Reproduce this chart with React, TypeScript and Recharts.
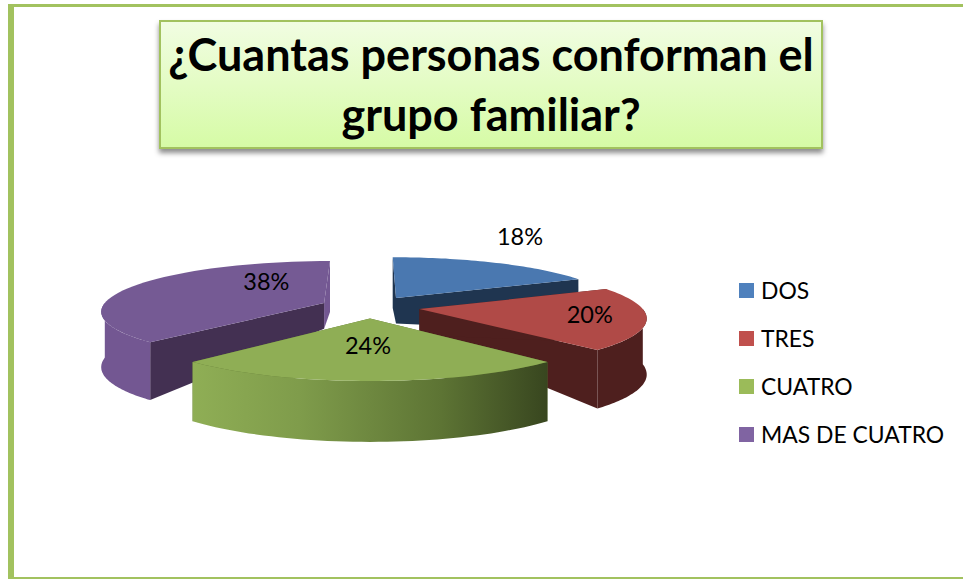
import { PieChart, Pie, Legend } from 'recharts'

const categories = ['DOS', 'TRES', 'CUATRO', 'MAS DE CUATRO']
const shares = [18, 20, 24, 38]
const legendColors = ['#4f81bd', '#c0504d', '#9bbb59', '#8064a2']
const topColors = ['#4a78b0', '#b04a47', '#8fae55', '#755a94']
const rimColors = ['#1f3550', '#4e1f1e', 'url(#greenRim)', '#735792']
const wallColors = ['#1f3550', '#4e1f1e', '#5a7030', '#433052']

// MAS DE CUATRO is painted first so the green slice sits over it
const paintOrder = [3, 0, 1, 2]
const table = paintOrder.map((i) => ({
  category: categories[i],
  value: shares[i],
  fill: legendColors[i],
}))

// the pie starts at 12 o'clock on DOS, so the first painted slice starts further round
const firstAngle = 90 - (360 * (shares[0] + shares[1] + shares[2])) / 100

// fake 3D: ground plane tilted towards the viewer, with a little perspective
const RADIUS = 222
const TILT = 0.222
const PERSPECTIVE = 0.15
const EXPLODE = 50
const DEPTH_APEX = 26
const DEPTH_RIM = 29

// label offsets from the projected mid point of each slice
const labelRadius = [1.1, 0.72, 0.35, 0.62]
const labelNudge = [
  [15, -24],
  [8, -2],
  [-2, 7],
  [63, -11],
]

const rad = (d: number) => (d * Math.PI) / 180

function project(cx: number, cy: number, clock: number, mid: number, r: number, down: boolean) {
  const X = r * Math.sin(rad(clock)) + EXPLODE * Math.sin(rad(mid))
  const Z = -r * Math.cos(rad(clock)) - EXPLODE * Math.cos(rad(mid))
  const s = 1 / (1 - (PERSPECTIVE * Z) / RADIUS)
  const drop = down ? (DEPTH_APEX + (DEPTH_RIM * r) / RADIUS) * Math.sqrt(s) : 0
  return [cx + X * s, cy + Z * TILT * s + drop]
}

const toPath = (pts: number[][]) =>
  'M' + pts.map((p) => `${p[0].toFixed(1)},${p[1].toFixed(1)}`).join('L') + 'Z'

function arcPoints(cx: number, cy: number, from: number, to: number, mid: number, r: number, down: boolean) {
  const steps = 48
  const pts: number[][] = []
  for (let k = 0; k <= steps; k++) {
    pts.push(project(cx, cy, from + ((to - from) * k) / steps, mid, r, down))
  }
  return pts
}

function Slice3D(props: any) {
  const { cx, cy, outerRadius, startAngle, endAngle, category } = props
  const i = categories.indexOf(category)
  const from = (90 - startAngle) % 360
  const to = from + (startAngle - endAngle)
  const mid = (from + to) / 2
  const rimTop = arcPoints(cx, cy, from, to, mid, outerRadius, false)
  const apexTop = project(cx, cy, from, mid, 0, false)
  const apexBottom = project(cx, cy, from, mid, 0, true)
  const first = [rimTop[0], project(cx, cy, from, mid, outerRadius, true)]
  const last = [rimTop[rimTop.length - 1], project(cx, cy, to, mid, outerRadius, true)]
  const startWall = [apexTop, first[0], first[1], apexBottom]
  const endWall = [apexTop, last[0], last[1], apexBottom]
  // only the front half of the rim can be seen
  const a = Math.max(from, 90)
  const b = Math.min(to, 270)
  const ribbon =
    b > a
      ? [
          ...arcPoints(cx, cy, a, b, mid, outerRadius, false),
          ...arcPoints(cx, cy, b, a, mid, outerRadius, true),
        ]
      : null
  return (
    <g>
      <defs>
        <linearGradient id="greenRim" x1="0" y1="0" x2="1" y2="0">
          <stop offset="0%" stopColor="#8fae55" />
          <stop offset="30%" stopColor="#7f9c4b" />
          <stop offset="70%" stopColor="#5d7434" />
          <stop offset="100%" stopColor="#38461f" />
        </linearGradient>
      </defs>
      <path d={toPath(endWall)} fill={i === 3 ? rimColors[i] : wallColors[i]} />
      <path d={toPath(startWall)} fill={wallColors[i]} />
      {ribbon && <path d={toPath(ribbon)} fill={rimColors[i]} />}
      <path d={toPath([apexTop, ...rimTop])} fill={topColors[i]} />
    </g>
  )
}

function percentLabel(props: any) {
  const { cx, cy, outerRadius, midAngle, category, value } = props
  const i = categories.indexOf(category)
  const clock = 90 - midAngle
  const p = project(cx, cy, clock, clock, outerRadius * labelRadius[i], false)
  return (
    <text
      x={p[0] + labelNudge[i][0]}
      y={p[1] + labelNudge[i][1]}
      textAnchor="middle"
      dominantBaseline="central"
      fill="#000"
      fontFamily="Lato"
      fontSize={23.5}
    >
      {value}%
    </text>
  )
}

function LegendList({ payload }: any) {
  const rows = [...(payload ?? [])].sort(
    (a: any, b: any) => categories.indexOf(a.value) - categories.indexOf(b.value),
  )
  return (
    <div style={{ fontFamily: 'Lato', fontSize: 22.9, color: '#000' }}>
      {rows.map((row: any) => (
        <div key={row.value} style={{ display: 'flex', alignItems: 'center', height: 48 }}>
          <span style={{ width: 15, height: 15, background: row.color, marginRight: 7 }} />
          <span style={{ whiteSpace: 'nowrap' }}>{row.value}</span>
        </div>
      ))}
    </div>
  )
}

export default function App() {
  return (
    <div
      style={{
        position: 'fixed',
        left: 0,
        top: 0,
        width: 963,
        height: 579,
        overflow: 'hidden',
        background: '#fff',
      }}
    >
      {/* page frame, open on the right */}
      <div
        style={{
          position: 'absolute',
          left: 8,
          top: 4,
          width: 960,
          height: 570,
          borderTop: '3px solid #a2c25f',
          borderLeft: '6px solid #a2c25f',
          borderBottom: '2px solid #a2c25f',
        }}
      />
      <PieChart width={963} height={579} style={{ position: 'absolute', left: 0, top: 0 }}>
        <Pie
          data={table}
          dataKey="value"
          nameKey="category"
          cx={365}
          cy={302}
          outerRadius={RADIUS}
          startAngle={firstAngle}
          endAngle={firstAngle - 360}
          stroke="none"
          shape={Slice3D}
          label={percentLabel}
          labelLine={false}
          isAnimationActive={false}
        />
        <Legend
          layout="vertical"
          content={LegendList}
          wrapperStyle={{ position: 'absolute', left: 739, top: 266, width: 220, bottom: 'auto' }}
        />
      </PieChart>
      <div
        style={{
          position: 'absolute',
          left: 159,
          top: 20,
          width: 660,
          height: 123,
          border: '2px solid #a2c25f',
          background: 'linear-gradient(#f1fde2, #d6fba6)',
          boxShadow: '0 4px 5px rgba(0,0,0,0.45)',
          textAlign: 'center',
          fontFamily: 'Lato',
          fontWeight: 700,
          fontSize: 45,
          lineHeight: '60px',
          paddingTop: 2,
          boxSizing: 'content-box',
          color: '#000',
        }}
      >
        ¿Cuantas personas conforman el
        <br />
        grupo familiar?
      </div>
    </div>
  )
}
